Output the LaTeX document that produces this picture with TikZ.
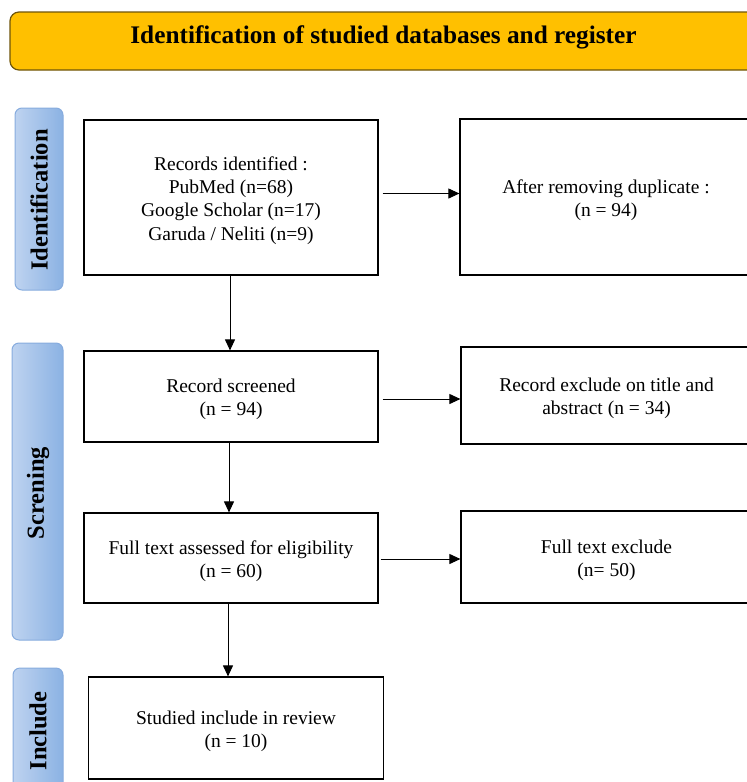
\documentclass[tikz,border=0pt]{standalone}
\usepackage{fontspec}
\setmainfont{Liberation Serif}
\usepackage{xcolor}
\usetikzlibrary{arrows.meta,positioning}
\definecolor{titlegold}{RGB}{255,192,0}
\definecolor{titleedge}{RGB}{110,85,10}
\definecolor{sidelight}{RGB}{190,211,240}
\definecolor{sidedark}{RGB}{139,178,227}
\definecolor{sideedge}{RGB}{135,172,222}
\begin{document}
\begin{tikzpicture}[x=1pt,y=-1pt,
  >={Triangle[length=11pt,width=10pt]},
  flowbox/.style={draw=black,line width=1.2pt,inner sep=0pt},
  flowtext/.style={align=center,yshift=-3pt,font=\fontsize{19.5}{23.3}\selectfont},
  sidebox/.style={draw=sideedge,line width=1pt,rounded corners=7pt,
    left color=sidelight,right color=sidedark},
  sidetext/.style={rotate=90,font=\fontsize{24.5}{28}\selectfont\bfseries},
  flow/.style={->,line width=1pt}]
\clip (0,0) rectangle (747,782);
% title bar
\draw[fill=titlegold,draw=titleedge,line width=1.2pt,rounded corners=9pt](10,12)rectangle(790,70);
\node[font=\fontsize{25.3}{28}\selectfont\bfseries](title) at (383.5,37.5){Identification of studied databases and register};
% side labels
\draw[sidebox](15,108)rectangle(63,290);
\node[sidetext](idside) at (39,200){Identification};
\draw[sidebox](12,343)rectangle(63,640);
\node[sidetext](scrside) at (38,493){Screning};
\draw[sidebox](13,668)rectangle(63,810);
\node[sidetext](incside) at (38,731){Include};
% boxes
\node[flowbox,minimum width=294pt,minimum height=155pt,
  label={[flowtext]center:Records identified :\\PubMed (n=68)\\Google Scholar (n=17)\\Garuda / Neliti (n=9)}](records) at (231,197.5){};
\node[flowbox,minimum width=292pt,minimum height=156pt,
  label={[flowtext]center:After removing duplicate :\\(n = 94)}](dedup) at (606,197){};
\node[flowbox,minimum width=294pt,minimum height=91pt,
  label={[flowtext]center:Record screened\\(n = 94)}](screened) at (231,396.5){};
\node[flowbox,minimum width=291pt,minimum height=97pt,
  label={[flowtext]center:Record exclude on title and\\abstract (n = 34)}](excluded) at (606.5,395.5){};
\node[flowbox,minimum width=294pt,minimum height=90pt,
  label={[flowtext]center:Full text assessed for eligibility\\(n = 60)}](fulltext) at (231,558){};
\node[flowbox,minimum width=291pt,minimum height=92pt,
  label={[flowtext]center:Full text exclude\\(n= 50)}](ftexcl) at (606.5,557){};
\node[flowbox,minimum width=295pt,minimum height=102pt,
  label={[flowtext]center:Studied include in review\\(n = 10)}](studied) at (236,728){};
% arrows
\draw[flow,shorten <=4pt]([yshift=4pt]records.east)--([yshift=4pt]records.east -| dedup.west);
\draw[flow]([xshift=-1pt]records.south)--([xshift=-1pt]records.south |- screened.north);
\draw[flow,shorten <=4pt]([yshift=-2.5pt]screened.east)--([yshift=-2.5pt]screened.east -| excluded.west);
\draw[flow]([xshift=-2pt]screened.south)--([xshift=-2pt]screened.south |- fulltext.north);
\draw[flow,shorten <=2pt]([yshift=-1pt]fulltext.east)--([yshift=-1pt]fulltext.east -| ftexcl.west);
\draw[flow]([xshift=-3pt]fulltext.south)--([xshift=-3pt]fulltext.south |- studied.north);
\end{tikzpicture}
\end{document}
